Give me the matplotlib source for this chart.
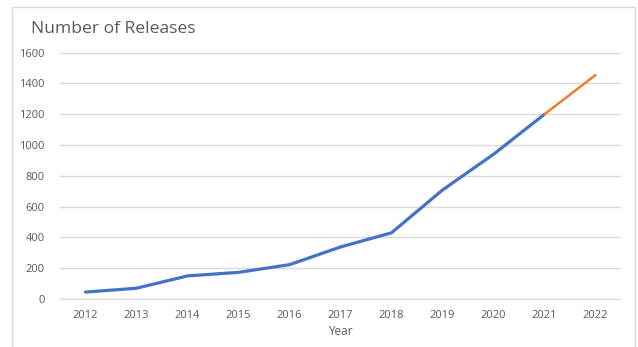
import matplotlib
matplotlib.use("Agg")
import matplotlib.pyplot as plt
from matplotlib.patches import Rectangle

years = ["2012", "2013", "2014", "2015", "2016", "2017", "2018", "2019", "2020", "2021", "2022"]
releases = [45, 70, 150, 173, 223, 338, 430, 708, 940, 1200, 1455]
yticks = [0, 200, 400, 600, 800, 1000, 1200, 1400, 1600]

plt.rcParams['font.family'] = ['Open Sans', 'DejaVu Sans']
W, H = 638, 347
fig = plt.figure(figsize=(W / 100, H / 100), dpi=100)

# outer chart frame
fig.patches.append(Rectangle((12 / W, -0.01), (635 - 12) / W, (H - 7) / H + 0.01,
                             transform=fig.transFigure, fill=False,
                             edgecolor='#d9d9d9', linewidth=1.0))

ax = fig.add_axes([60 / W, (H - 299) / H, (621 - 60) / W, (299 - 52.7) / H])
x = list(range(len(years)))
ax.plot(x[:10], releases[:10], color='#4472C4', linewidth=2.3, solid_capstyle='round')
ax.plot(x[9:], releases[9:], color='#ED7D31', linewidth=1.8, solid_capstyle='round')

ax.set_xlim(-0.5, len(years) - 0.5)
ax.set_ylim(0, 1600)
ax.set_yticks(yticks)
ax.set_yticklabels([str(v) for v in yticks])
ax.set_xticks(x)
ax.set_xticklabels(years)
ax.grid(axis='y', color='#d9d9d9', linewidth=1.0)
ax.set_axisbelow(True)
for s in ['top', 'right', 'left']:
    ax.spines[s].set_visible(False)
ax.spines['bottom'].set_color('#d9d9d9')
ax.tick_params(axis='both', length=0, labelsize=8, colors='#595959')
ax.tick_params(axis='y', pad=11)
ax.tick_params(axis='x', pad=8)
ax.set_xlabel('Year', fontsize=8.5, color='#595959', labelpad=3)

fig.text(31 / W, (H - 33) / H, 'Number of Releases', fontsize=12.6, color='#595959',
         ha='left', va='baseline')

fig.savefig('out.png', dpi=100)
